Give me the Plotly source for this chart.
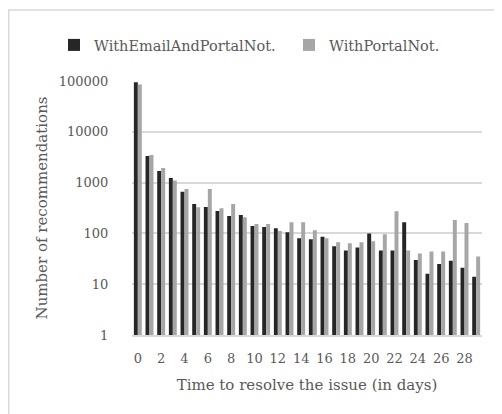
import plotly.graph_objects as go

days = list(range(30))
with_email_and_portal = [94400, 3340, 1700, 1230, 661, 379, 331, 276, 220, 230,
                         140, 134, 126, 105, 80, 77, 86, 56, 46, 53,
                         100, 46, 46, 165, 30, 16, 25, 29, 21, 14]
with_portal = [85000, 3490, 1945, 1100, 748, 327, 748, 312, 379, 207,
               153, 153, 111, 165, 165, 115, 80, 67, 64, 67,
               70, 96, 272, 46, 40, 44, 44, 184, 161, 35]
y_ticks = [1, 10, 100, 1000, 10000, 100000]
x_ticks = list(range(0, 30, 2))

font = "DejaVu Serif"
txt = "#595959"
clear = "rgba(0,0,0,0)"
W, H = 494, 406

fig = go.Figure()
fig.add_trace(go.Bar(x=days, y=with_email_and_portal, name="WithEmailAndPortalNot.",
                     marker=dict(color="#262626", line=dict(width=0)), legend="legend"))
fig.add_trace(go.Bar(x=days, y=with_portal, name="WithPortalNot.",
                     marker=dict(color="#a6a6a6", line=dict(width=0)), legend="legend2"))

leg_common = dict(orientation="h", xref="container", yref="container",
                  xanchor="left", yanchor="middle", y=1 - 37 / H,
                  font=dict(size=14.5, color=txt), itemwidth=30,
                  bgcolor=clear)

fig.update_layout(
    width=W, height=H,
    paper_bgcolor="white", plot_bgcolor="white",
    barmode="group", bargap=0.32, bargroupgap=0,
    margin=dict(l=124, r=20, t=73, b=79, autoexpand=False),
    font=dict(family=font, color=txt, size=13),
    legend=dict(leg_common, x=46 / W),
    legend2=dict(leg_common, x=281 / W),
    showlegend=True,
    xaxis=dict(range=[-0.5, 29.5], tickmode="array", tickvals=x_ticks,
               ticktext=[str(v) for v in x_ticks], showgrid=False,
               showline=True, linecolor="#d9d9d9", linewidth=1.5,
               ticks="outside", ticklen=11, tickcolor=clear,
               tickfont=dict(size=13, color=txt),
               title=dict(text="Time to resolve the issue (in days)",
                          font=dict(size=15, color=txt), standoff=14)),
    yaxis=dict(type="log", range=[0, 5], tickmode="array", tickvals=y_ticks,
               ticktext=[str(v) for v in y_ticks], showgrid=True,
               gridcolor="#d9d9d9", gridwidth=1.5, zeroline=False,
               showline=False, ticks="outside", ticklen=20, tickcolor=clear,
               tickfont=dict(size=13, color=txt),
               title=dict(text="Number of recommendations",
                          font=dict(size=15, color=txt), standoff=7)),
    shapes=[dict(type="rect", xref="paper", yref="paper",
                 x0=(0.75 - 124) / 350, x1=(W + 20 - 124) / 350,
                 y0=-(79 + 20) / 254, y1=(H - 2 - 79) / 254,
                 line=dict(color="#d9d9d9", width=1.5), fillcolor=clear,
                 layer="below")],
)

fig.write_html("out.html")
